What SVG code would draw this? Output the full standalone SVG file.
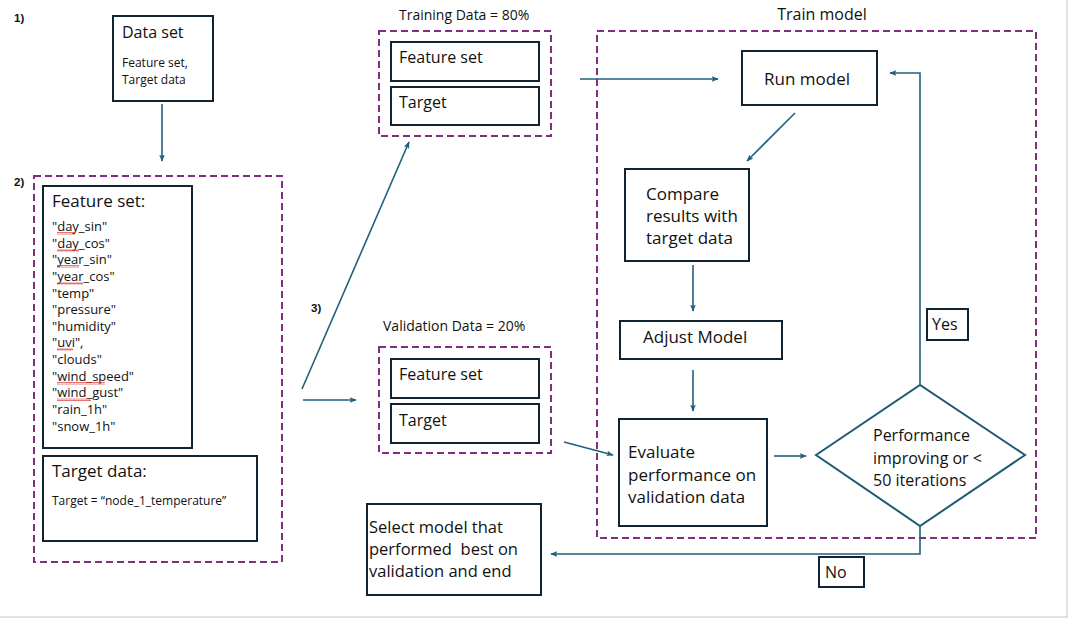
<svg xmlns="http://www.w3.org/2000/svg" width="1069" height="619" viewBox="0 0 1069 619">
<defs>
<style>
.box{fill:#fff;stroke:#0f2332;stroke-width:2}
.grp{fill:none;stroke:#7e2f80;stroke-width:2;stroke-dasharray:7 4}
.c{fill:none;stroke:#215f7e;stroke-width:1.6}
.t{font-family:"Open Sans","Noto Sans",sans-serif;fill:#111;white-space:pre}
.num{font-family:"Liberation Sans",Arial,sans-serif;font-weight:bold;font-size:11.5px;fill:#111}
</style>
<marker id="ah" viewBox="0 0 10 10" refX="9" refY="5" markerWidth="7" markerHeight="7" markerUnits="userSpaceOnUse" orient="auto">
<path d="M0,1 L10,5 L0,9 L2,5 Z" fill="#215f7e"/>
</marker>
<pattern id="wave" width="4" height="3" patternUnits="userSpaceOnUse">
<path d="M0,2.5 L1,0.5 L2,2.5 L3,0.5 L4,2.5" stroke="#d33" stroke-width="0.7" fill="none"/>
</pattern>
</defs>
<rect x="0" y="0" width="1069" height="619" fill="#fff"/>
<line x1="1067" y1="0" x2="1067" y2="618" stroke="#d9d9d9" stroke-width="1.5"/>
<line x1="0" y1="617" x2="1068" y2="617" stroke="#d9d9d9" stroke-width="1.5"/>

<text class="num" x="14" y="22">1)</text>
<text class="num" x="14" y="186">2)</text>
<text class="num" x="311" y="312">3)</text>

<g id="dataset">
<rect class="box" x="113" y="16" width="100" height="85"/>
<text class="t" x="122" y="38" font-size="16">Data set</text>
<text class="t" x="122" y="67" font-size="12">Feature set,</text>
<text class="t" x="122" y="84" font-size="12">Target data</text>
</g>

<g id="group2">
<rect class="grp" x="34" y="176" width="248" height="386"/>
</g>

<g id="featureset">
<rect class="box" x="43" y="186" width="149" height="262"/>
<text class="t" x="52" y="207" font-size="17">Feature set:</text>
<g class="t" font-size="13">
<text x="52" y="231">"day_sin"</text>
<text x="52" y="248">"day_cos"</text>
<text x="52" y="264">"year_sin"</text>
<text x="52" y="281">"year_cos"</text>
<text x="52" y="298">"temp"</text>
<text x="52" y="314">"pressure"</text>
<text x="52" y="331">"humidity"</text>
<text x="52" y="347">"uvi",</text>
<text x="52" y="364">"clouds"</text>
<text x="52" y="381">"wind_speed"</text>
<text x="52" y="397">"wind_gust"</text>
<text x="52" y="414">"rain_1h"</text>
<text x="52" y="431">"snow_1h"</text>
</g>
<g fill="url(#wave)">
<rect x="57" y="232" width="18" height="3"/>
<rect x="57" y="249" width="22" height="3"/>
<rect x="57" y="265" width="22" height="3"/>
<rect x="57" y="282" width="26" height="3"/>
<rect x="57" y="348" width="16" height="3"/>
<rect x="57" y="382" width="48" height="3"/>
<rect x="57" y="398" width="34" height="3"/>
</g>
</g>

<g id="targetdata">
<rect class="box" x="43" y="456" width="214" height="85"/>
<text class="t" x="52" y="477" font-size="17">Target data:</text>
<text class="t" x="52" y="505" font-size="12">Target = “node_1_temperature”</text>
</g>

<g id="training">
<text class="t" x="399" y="20" font-size="14">Training Data = 80%</text>
<rect class="grp" x="379" y="31" width="172" height="105"/>
<rect class="box" x="391" y="42" width="148" height="39"/>
<text class="t" x="399" y="63" font-size="16">Feature set</text>
<rect class="box" x="391" y="87" width="148" height="38"/>
<text class="t" x="399" y="108" font-size="16">Target</text>
</g>

<g id="validation">
<text class="t" x="383" y="331" font-size="14">Validation Data = 20%</text>
<rect class="grp" x="379" y="347" width="172" height="106"/>
<rect class="box" x="391" y="359" width="148" height="39"/>
<text class="t" x="399" y="380" font-size="16">Feature set</text>
<rect class="box" x="391" y="404" width="148" height="39"/>
<text class="t" x="399" y="426" font-size="16">Target</text>
</g>

<g id="trainmodel">
<text class="t" x="822" y="20" font-size="16" text-anchor="middle">Train model</text>
<rect class="grp" x="597" y="31" width="439" height="507"/>
</g>

<g id="runmodel">
<rect class="box" x="742" y="51" width="135" height="54"/>
<text class="t" x="807" y="85" font-size="17" text-anchor="middle">Run model</text>
</g>

<g id="compare">
<rect class="box" x="625" y="169" width="124" height="92"/>
<g class="t" font-size="17">
<text x="646" y="200">Compare</text>
<text x="646" y="222">results with</text>
<text x="646" y="244">target data</text>
</g>
</g>

<g id="adjust">
<rect class="box" x="620" y="321" width="162" height="38"/>
<text class="t" x="643" y="343" font-size="17">Adjust Model</text>
</g>

<g id="evaluate">
<rect class="box" x="619" y="419" width="148" height="107"/>
<g class="t" font-size="17">
<text x="628" y="458">Evaluate</text>
<text x="628" y="481">performance on</text>
<text x="628" y="503">validation data</text>
</g>
</g>

<g id="decision">
<polygon points="816,455 920,385 1025,455 920,526" fill="#fff" stroke="#1f5a73" stroke-width="2"/>
<g class="t" font-size="16">
<text x="873" y="441">Performance</text>
<text x="873" y="464">improving or &lt;</text>
<text x="873" y="486">50 iterations</text>
</g>
</g>

<g id="yes">
<rect class="box" x="927" y="309" width="41" height="31"/>
<text class="t" x="932" y="330" font-size="16">Yes</text>
</g>

<g id="no">
<rect class="box" x="819" y="557" width="45" height="30"/>
<text class="t" x="825" y="578" font-size="16">No</text>
</g>

<g id="select">
<rect class="box" x="367" y="504" width="174" height="91"/>
<g class="t" font-size="16.5">
<text x="369" y="533">Select model that</text>
<text x="369" y="555" xml:space="preserve">performed  best on</text>
<text x="369" y="577">validation and end</text>
</g>
</g>

<g id="connectors">
<line class="c" x1="162" y1="104" x2="162" y2="161" marker-end="url(#ah)"/>
<line class="c" x1="302" y1="389" x2="409" y2="142" marker-end="url(#ah)"/>
<line class="c" x1="303" y1="400" x2="356" y2="400" marker-end="url(#ah)"/>
<line class="c" x1="580" y1="79" x2="718" y2="79" marker-end="url(#ah)"/>
<line class="c" x1="795" y1="113" x2="747" y2="161" marker-end="url(#ah)"/>
<line class="c" x1="693" y1="265" x2="693" y2="311" marker-end="url(#ah)"/>
<line class="c" x1="693" y1="370" x2="693" y2="411" marker-end="url(#ah)"/>
<line class="c" x1="564" y1="442" x2="613" y2="455" marker-end="url(#ah)"/>
<line class="c" x1="774" y1="456" x2="806" y2="456" marker-end="url(#ah)"/>
<polyline class="c" points="920,385 920,73 890,73" marker-end="url(#ah)"/>
<polyline class="c" points="920,526 920,554 551,554" marker-end="url(#ah)"/>
</g>
</svg>
